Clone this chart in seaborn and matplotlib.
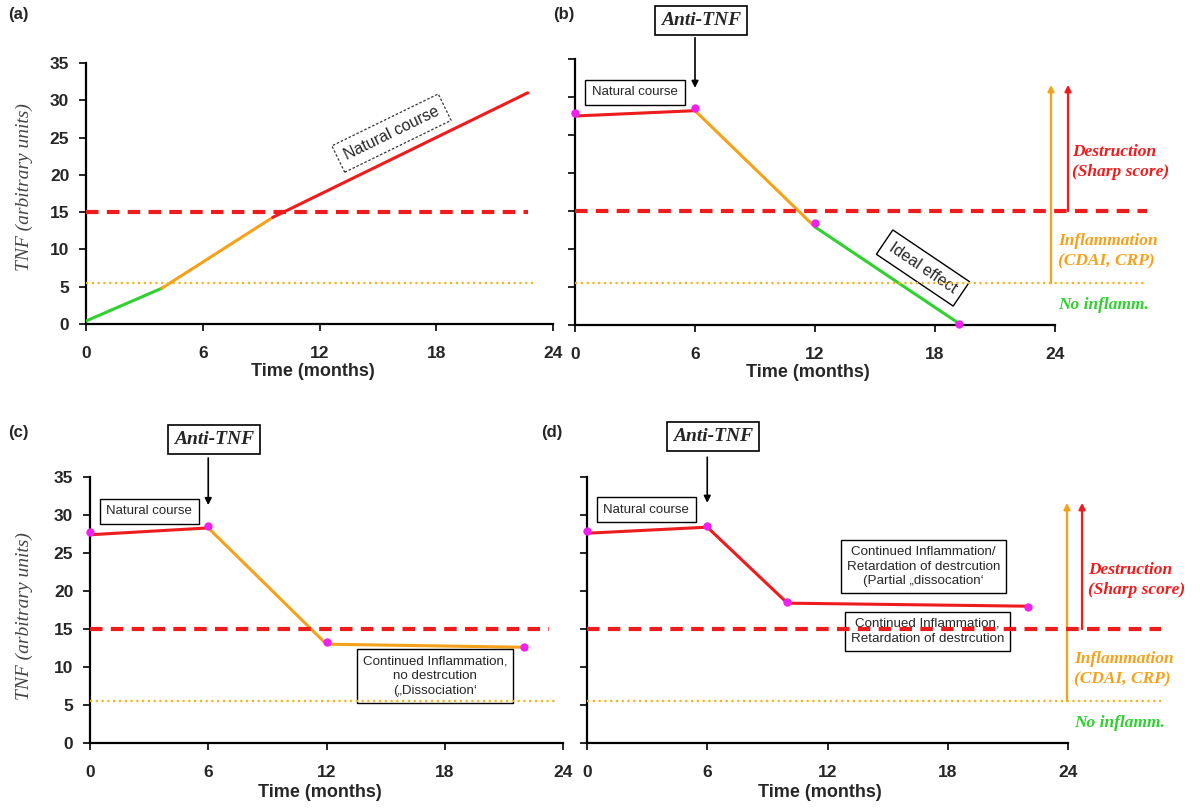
import pandas as pd
import seaborn as sns
import matplotlib.pyplot as plt

# TNF course under anti-TNF therapy: 4 scenario panels

sns.set_style('ticks')
plt.rcParams['font.family'] = ['Liberation Sans', 'DejaVu Sans']

RED = '#ee1c1c'
ORANGE = '#f5a21a'
GREEN = '#2fd12f'
MAGENTA = '#ee22ee'
DOT_ORANGE = '#f5b41e'

# axis scales
month_ticks = [0, 6, 12, 18, 24]
tnf_ticks = [0, 5, 10, 15, 20, 25, 30, 35]
destruction_level = 15
inflammation_level = 5.5

# (a) natural course
a_t = [0, 3.9, 9.6, 22.7]
a_y = [0.4, 4.8, 14.3, 31.0]
a_col = [GREEN, ORANGE, RED]

# (b) ideal effect
b_t = [0, 6, 12, 19.2]
b_y = [27.5, 28.2, 12.9, 0.2]
b_col = [RED, ORANGE, GREEN]
b_dot_y = [27.9, 28.6, 13.4, 0.1]

# (c) dissociation
c_t = [0, 6, 12, 22]
c_y = [27.4, 28.3, 13.0, 12.6]
c_col = [RED, ORANGE, ORANGE]
c_dot_y = [27.7, 28.5, 13.3, 12.6]

# (d) partial dissociation
d_t = [0, 6, 10, 22]
d_y = [27.6, 28.4, 18.4, 18.0]
d_col = [RED, RED, RED]
d_dot_y = [27.9, 28.6, 18.6, 17.9]

# how far the threshold lines run (months): dashed, dotted
a_thr_end = [22.7, 23.0]
b_thr_end = [28.6, 28.6]
c_thr_end = [23.3, 23.7]
d_thr_end = [28.65, 28.65]

serif = ['Liberation Serif', 'DejaVu Serif']


def draw_curve(ax, t, y, colors):
    rows = []
    for i, c in enumerate(colors):
        rows.append({'t': t[i], 'tnf': y[i], 'seg': f's{i}'})
        rows.append({'t': t[i + 1], 'tnf': y[i + 1], 'seg': f's{i}'})
    df = pd.DataFrame(rows)
    pal = {f's{i}': c for i, c in enumerate(colors)}
    sns.lineplot(data=df, x='t', y='tnf', hue='seg', palette=pal, estimator=None,
                 sort=False, legend=False, lw=2.2, ax=ax, zorder=3)


def draw_dots(ax, t, y):
    sns.scatterplot(x=t, y=y, color=MAGENTA, s=36, edgecolor=MAGENTA, linewidth=0,
                    zorder=6, clip_on=False, ax=ax)


def setup(ax, show_y, xlab_y):
    ax.set_xlim(0, 24)
    ax.set_ylim(0, 35)
    ax.set_xticks(month_ticks)
    ax.set_yticks(tnf_ticks)
    sns.despine(ax=ax)
    for s in ['left', 'bottom']:
        ax.spines[s].set_linewidth(1.6)
        ax.spines[s].set_color('black')
    ax.tick_params(axis='x', length=5, width=1.4, pad=11, labelsize=12.5)
    ax.tick_params(axis='y', length=5, width=1.4, pad=7, labelsize=12.5, labelleft=show_y)
    for lab in ax.get_xticklabels() + ax.get_yticklabels():
        lab.set_fontweight('bold')
    ax.set_xlabel('Time (months)', fontsize=13, fontweight='bold')
    ax.xaxis.set_label_coords(0.485, xlab_y)
    if show_y:
        ax.set_ylabel('TNF (arbitrary units)', fontsize=14, style='italic',
                      family=serif, color='#444444')
    else:
        ax.set_ylabel('')


def thresholds(ax, ends):
    ax.plot([0, ends[0]], [destruction_level, destruction_level], color=RED, lw=3,
            dashes=(3, 2), clip_on=False, zorder=4)
    ax.plot([0, ends[1]], [inflammation_level, inflammation_level], color=DOT_ORANGE,
            lw=1.6, ls=(0, (1, 1.6)), clip_on=False, zorder=4)


def box(ax, x, y, s, size=9.5, pad=0.5, **kw):
    ax.text(x, y, s, ha='center', va='center', fontsize=size, zorder=3,
            bbox=dict(boxstyle=f'square,pad={pad}', fc='white', ec='black', lw=1), **kw)


def anti_tnf(ax, xbox, ybox, tail, tip):
    ax.text(xbox, ybox, 'Anti-TNF', ha='center', va='center', fontsize=14,
            family=serif, style='italic', fontweight='bold', zorder=3,
            bbox=dict(boxstyle='square,pad=0.3', fc='white', ec='black', lw=1.2))
    ax.annotate('', xy=(6, tip), xytext=(6, tail), annotation_clip=False,
                arrowprops=dict(arrowstyle='-|>', color='black', lw=1.2,
                                mutation_scale=10, shrinkA=0, shrinkB=0))


def legend_side(ax, x_or, x_red, top, x_txt_d, x_txt_i, y_d, y_i, y_n):
    ax.annotate('', xy=(x_or, top), xytext=(x_or, inflammation_level), annotation_clip=False,
                arrowprops=dict(arrowstyle='-|>', color=ORANGE, lw=1.6,
                                mutation_scale=9, shrinkA=0, shrinkB=0))
    ax.annotate('', xy=(x_red, top), xytext=(x_red, destruction_level), annotation_clip=False,
                arrowprops=dict(arrowstyle='-|>', color=RED, lw=1.6,
                                mutation_scale=9, shrinkA=0, shrinkB=0))
    kw = dict(family=serif, style='italic', fontweight='bold', fontsize=12.5,
              ha='left', va='center', linespacing=1.35)
    ax.text(x_txt_d, y_d, 'Destruction\n(Sharp score)', color=RED, **kw)
    ax.text(x_txt_i, y_i, 'Inflammation\n(CDAI, CRP)', color=ORANGE, **kw)
    ax.text(x_txt_i, y_n, 'No inflamm.', color=GREEN, **kw)


fig = plt.figure(figsize=(12, 8.08), dpi=100)
W, H = 1200, 808
ax_a = fig.add_axes([86 / W, 1 - 324 / H, 467 / W, 261 / H])
ax_b = fig.add_axes([575 / W, 1 - 325 / H, 480 / W, 266 / H])
ax_c = fig.add_axes([90 / W, 1 - 743 / H, 473 / W, 266 / H])
ax_d = fig.add_axes([587 / W, 1 - 743 / H, 481 / W, 266 / H])

# (a)
draw_curve(ax_a, a_t, a_y, a_col)
thresholds(ax_a, a_thr_end)
setup(ax_a, True, -0.148)
ax_a.yaxis.set_label_coords(-0.113, 0.525)
ax_a.text(15.7, 25.6, 'Natural course', ha='center', va='center', fontsize=11.5,
          rotation=26, rotation_mode='anchor', zorder=3,
          bbox=dict(boxstyle='square,pad=0.45', fc='white', ec='#333333', lw=0.9,
                    ls=(0, (2, 1.5))))

# (b)
draw_curve(ax_b, b_t, b_y, b_col)
draw_dots(ax_b, b_t, b_dot_y)
thresholds(ax_b, b_thr_end)
setup(ax_b, False, -0.146)
box(ax_b, 3.0, 30.6, 'Natural course')
anti_tnf(ax_b, 6.3, 40.1, 37.8, 31.2)
ax_b.text(17.4, 7.5, 'Ideal effect', ha='center', va='center', fontsize=11.5,
          rotation=-34, rotation_mode='anchor', zorder=3,
          bbox=dict(boxstyle='square,pad=0.45', fc='white', ec='black', lw=1))
legend_side(ax_b, 23.8, 24.65, 31.6, 24.85, 24.15, 21.4, 9.7, 2.6)

# (c)
draw_curve(ax_c, c_t, c_y, c_col)
draw_dots(ax_c, c_t, c_dot_y)
thresholds(ax_c, c_thr_end)
setup(ax_c, True, -0.156)
ax_c.yaxis.set_label_coords(-0.121, 0.477)
box(ax_c, 3.0, 30.5, 'Natural course')
anti_tnf(ax_c, 6.3, 39.9, 37.5, 31.3)
box(ax_c, 17.5, 8.8, 'Continued Inflammation,\nno destrcution\n(\u201eDissociation\u2018',
    size=9.6, pad=0.45, linespacing=1.3)

# (d)
draw_curve(ax_d, d_t, d_y, d_col)
draw_dots(ax_d, d_t, d_dot_y)
thresholds(ax_d, d_thr_end)
setup(ax_d, False, -0.156)
box(ax_d, 2.95, 30.7, 'Natural course')
anti_tnf(ax_d, 6.3, 40.3, 37.6, 31.6)
box(ax_d, 16.8, 23.2, 'Continued Inflammation/\nRetardation of destrcution\n(Partial \u201edissocation\u2018',
    size=9.6, pad=0.45, linespacing=1.3)
box(ax_d, 17.0, 14.7, 'Continued Inflammation,\nRetardation of destrcution',
    size=9.6, pad=0.45, linespacing=1.3)
legend_side(ax_d, 23.95, 24.7, 31.6, 25.0, 24.3, 21.5, 9.7, 2.6)

# panel letters
for lab, x, y in [('(a)', 8, 15), ('(b)', 553, 15), ('(c)', 8, 433), ('(d)', 541, 433)]:
    fig.text(x / W, 1 - y / H, lab, fontsize=12, fontweight='bold', ha='left', va='center')

fig.savefig('out.png', dpi=100)
